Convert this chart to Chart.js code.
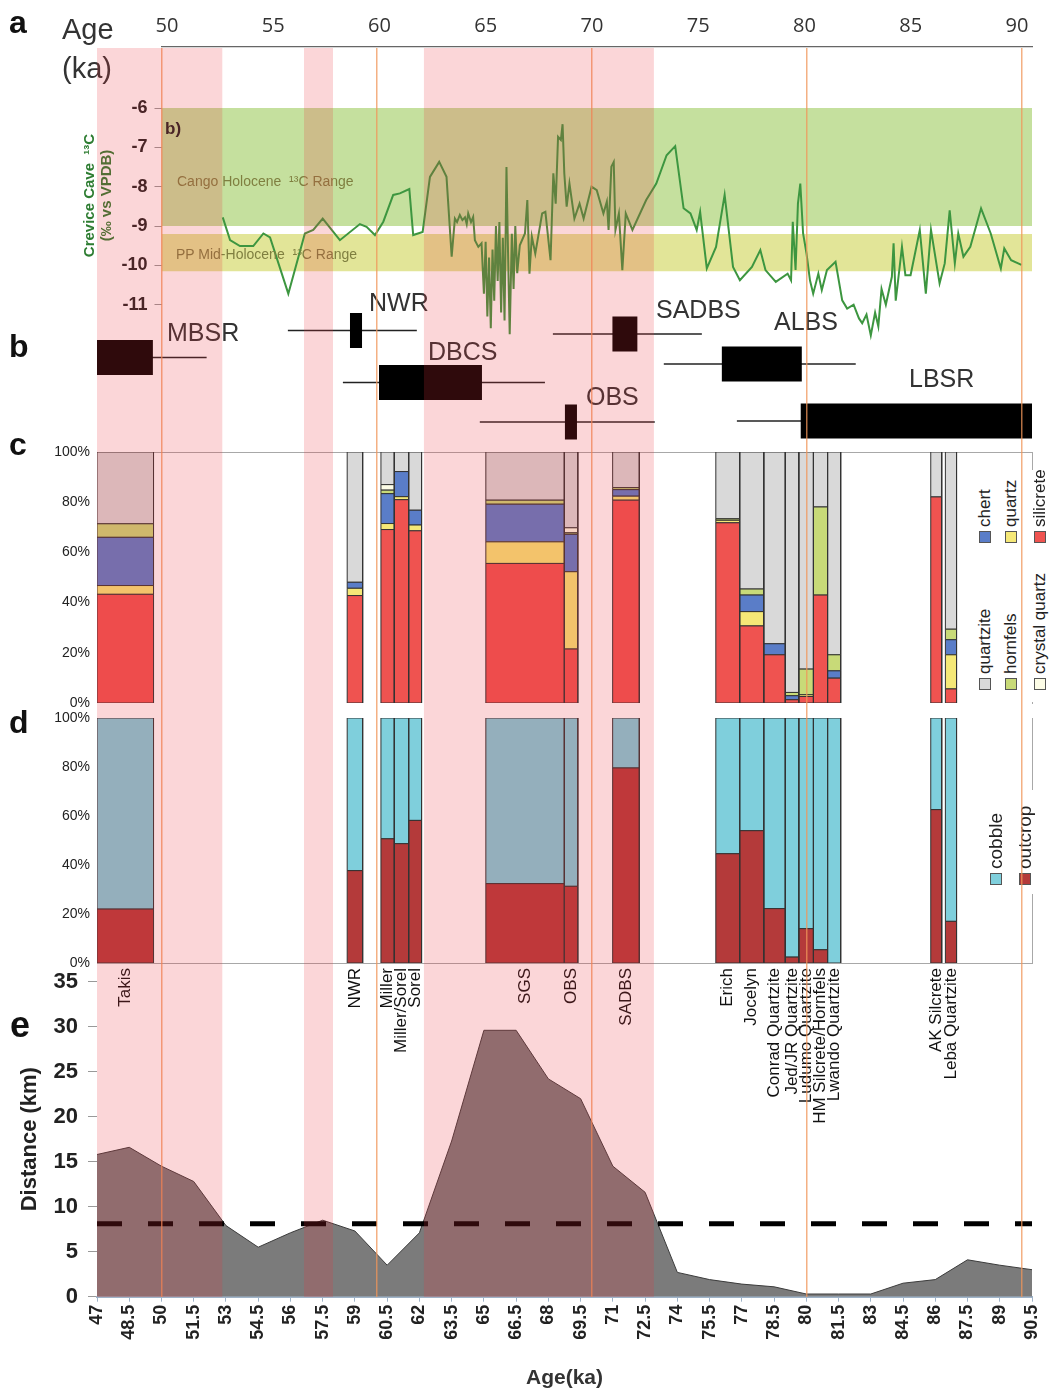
<!DOCTYPE html>
<html>
<head>
<meta charset="utf-8">
<title>Raw material sourcing, dates and distance by age</title>
<script src="https://cdn.jsdelivr.net/npm/chart.js@4.4.1/dist/chart.umd.min.js"></script>
<style>
  html, body { margin: 0; padding: 0; background: #fff; }
  body { position: relative; width: 1052px; height: 1393px; overflow: hidden; font-family: Arial, "Liberation Sans", sans-serif; }
  .panel { position: absolute; left: 0; width: 1052px; }
  .t { position: absolute; white-space: nowrap; line-height: 1; }
  .letter { font-weight: bold; font-size: 32px; color: #111; }
  .date { font-size: 25px; color: #333; }
  .range { font-family: "Liberation Sans Narrow", "Arial Narrow", Arial, sans-serif; font-size: 14px; color: #7f7f40; }
  .leg { position: absolute; transform: rotate(-90deg); transform-origin: 0 0; white-space: nowrap; display: flex; align-items: center; height: 20px; color: #222; }
  .sw { width: 12px; height: 12px; box-sizing: border-box; border: 1px solid #555; margin-right: 4px; flex: none; }
  .legbg { position: absolute; background: #fff; }
  #overlay { z-index: 10; pointer-events: none; }
</style>
</head>
<body>
<div class="panel" style="top:0;height:344px"><canvas id="chartA"></canvas></div>
<div class="panel" style="top:290px;height:155px"><canvas id="chartB"></canvas></div>
<div class="panel" style="top:440px;height:273px"><canvas id="chartC"></canvas></div>
<div class="panel" style="top:708px;height:455px"><canvas id="chartD"></canvas></div>
<div class="panel" style="top:970px;height:423px"><canvas id="chartE"></canvas></div>
<div class="legbg" style="left:975px;top:470px;width:77px;height:232px"></div>
<div class="legbg" style="left:984px;top:790px;width:56px;height:104px"></div>

<div class="t letter" style="left:9px;top:6px">a</div>
<div class="t letter" style="left:9px;top:330px">b</div>
<div class="t letter" style="left:9px;top:428px">c</div>
<div class="t letter" style="left:9px;top:706px">d</div>
<div class="t letter" style="left:10px;top:1007px;font-size:36px">e</div>
<div class="t" style="left:62px;top:15px;font-size:29px;color:#333">Age</div>
<div class="t" style="left:62px;top:54px;font-size:29px;color:#333">(ka)</div>
<div class="t" style="left:165px;top:120px;font-size:17px;font-weight:bold;color:#222">b)</div>
<div class="t range" style="left:177px;top:174px">Cango Holocene &nbsp;¹³C Range</div>
<div class="t range" style="left:176px;top:247px">PP Mid-Holocene &nbsp;¹³C Range</div>
<div id="dateLabels"></div>

<div id="overlay" class="panel" style="top:48px;height:1249px"><canvas id="chartO"></canvas></div>

<script>
// ---- data ----
const topAgeTicks = [50, 55, 60, 65, 70, 75, 80, 85, 90];
const guideAges = [50, 60, 70, 80, 90];
const bandStart = [47.0, 56.63, 62.21];
const bandEnd = [52.83, 57.98, 72.91];

// Crevice Cave d13C record (ka, permil)
const d13cAge = [52.85, 53.19, 53.65, 54.27, 54.74, 55.05, 55.9, 56.67, 57.06, 57.5, 58.3, 59.23, 59.54, 59.93,
  60.32, 60.78, 61.09, 61.53, 61.71, 62.15, 62.49, 62.92, 63.26, 63.5, 63.65, 63.75, 63.88, 64.0, 64.12, 64.2,
  64.27, 64.4, 64.5, 64.58, 64.74, 64.89, 65.0, 65.08, 65.16, 65.24, 65.32, 65.4, 65.48, 65.56, 65.64, 65.72,
  65.8, 65.88, 65.96, 66.05, 66.12, 66.2, 66.3, 66.38, 66.46, 66.55, 66.67, 66.91, 67.02, 67.12, 67.23, 67.39,
  67.71, 67.86, 68.1, 68.23, 68.34, 68.45, 68.58, 68.66, 68.74, 68.85, 68.98, 69.21, 69.45, 69.64, 70.01, 70.25,
  70.56, 70.72, 70.8, 70.93, 71.04, 71.12, 71.28, 71.44, 71.6, 71.91, 72.55, 73.02, 73.5, 73.9, 74.29, 74.61,
  74.9, 75.06, 75.37, 75.8, 76.2, 76.59, 76.91, 77.47, 77.86, 78.1, 78.58, 79.13, 79.29, 79.37, 79.5, 79.61,
  79.72, 79.85, 80.01, 80.17, 80.32, 80.56, 80.72, 80.96, 81.36, 81.67, 81.9, 82.2, 82.45, 82.6, 82.8, 83.0,
  83.2, 83.35, 83.5, 83.7, 83.98, 84.06, 84.16, 84.29, 84.45, 84.61, 84.85, 85.28, 85.56, 85.8, 86.2, 86.44,
  86.67, 86.91, 87.07, 87.31, 87.63, 88.13, 88.58, 89.05, 89.21, 89.53, 90.01];
const d13cValue = [-8.78, -9.36, -9.51, -9.51, -9.19, -9.29, -10.72, -9.19, -9.10, -8.81, -9.36, -8.95, -9.02, -9.23,
  -8.89, -8.21, -8.17, -8.06, -9.23, -9.15, -7.75, -7.37, -7.75, -9.78, -8.81, -8.9, -8.72, -8.85, -8.78, -8.95,
  -8.68, -8.9, -8.77, -9.36, -9.53, -9.44, -10.72, -9.4, -11.3, -9.8, -11.6, -9.6, -10.9, -9.0, -10.4, -8.9,
  -11.2, -9.3, -11.4, -7.5, -9.6, -11.75, -9.2, -10.6, -9.0, -10.2, -9.49, -9.19, -8.34, -10.21, -9.27, -9.7,
  -8.68, -8.64, -9.87, -7.66, -8.43, -6.73, -6.81, -6.41, -7.66, -8.51, -7.92, -8.81, -8.43, -8.81, -8.0, -8.09,
  -8.68, -8.38, -9.1, -7.49, -7.37, -9.1, -8.68, -10.12, -8.68, -9.1, -8.34, -7.92, -7.2, -6.97, -8.55, -8.68,
  -9.1, -8.64, -10.08, -9.53, -8.21, -10.04, -10.38, -10.04, -9.61, -10.12, -10.42, -10.21, -10.38, -8.89, -10.12, -8.43,
  -7.92, -9.19, -9.7, -10.38, -10.72, -10.21, -10.63, -10.12, -9.91, -10.89, -11.1, -11.0, -11.35, -11.47, -11.25, -11.78,
  -11.2, -11.55, -10.6, -11.0, -10.29, -9.44, -10.9, -10.29, -9.53, -10.25, -10.25, -9.1, -10.72, -9.1, -10.46, -9.95,
  -8.6, -9.95, -9.19, -9.78, -9.53, -8.55, -9.19, -10.08, -9.57, -9.87, -9.99];
const d13cTicks = [-6, -7, -8, -9, -10, -11];
const cangoRange = [-6, -9];
const ppRange = [-9.2, -10.15];

// dated units: whisker low, box low, box high, whisker high (ka)
const dateNames = ['MBSR', 'NWR', 'DBCS', 'OBS', 'SADBS', 'ALBS', 'LBSR'];
const dateLow = [47.0, 55.88, 58.44, 64.81, 68.21, 73.37, 76.77];
const dateBoxLow = [47.0, 58.77, 60.12, 68.77, 70.98, 76.07, 79.74];
const dateBoxHigh = [49.6, 59.33, 64.91, 69.33, 72.14, 79.79, 90.5];
const dateHigh = [52.1, 61.88, 67.84, 72.95, 75.14, 82.3, 90.5];

// sites (age span in ka) and raw material composition (%)
const siteNames = ['Takis', 'NWR', 'Miller', 'Miller/Sorel', 'Sorel', 'SGS', 'OBS', 'SADBS', 'Erich', 'Jocelyn',
  'Conrad Quartzite', 'Jed/JR Quartzite', 'Ludumo Quartzite', 'HM Silcrete/Hornfels', 'Lwando Quartzite',
  'AK Silcrete', 'Leba Quartzite'];
const siteStart = [47.0, 58.64, 60.21, 60.83, 61.5, 65.09, 68.74, 70.99, 75.79, 76.9, 78.02, 79.02, 79.65, 80.33, 80.99, 85.79, 86.47];
const siteEnd = [49.63, 59.36, 60.83, 61.5, 62.1, 68.74, 69.37, 72.23, 76.9, 78.02, 79.02, 79.65, 80.33, 80.99, 81.6, 86.3, 86.99];
const silcrete = [43.3, 42.8, 69.1, 81.0, 68.6, 55.6, 21.5, 80.8, 71.8, 30.7, 19.2, 1.3, 2.6, 43.0, 9.9, 82.1, 5.6];
const quartz = [3.5, 2.9, 2.4, 1.2, 2.3, 8.6, 30.8, 1.6, 1.0, 5.7, 0, 0, 0.7, 0, 0, 0, 13.6];
const chert = [19.2, 2.4, 11.9, 10.0, 5.9, 15.0, 14.9, 2.6, 0, 6.6, 4.4, 1.6, 0, 0, 2.9, 0, 6.0];
const hornfels = [5.4, 0, 1.4, 0, 0, 1.6, 0.6, 0.8, 0.6, 2.4, 0, 1.3, 10.2, 35.1, 6.4, 0, 4.2];
const crystalQuartz = [0, 0, 2.2, 0, 0, 0, 2.0, 0, 0, 0, 0, 0, 0, 0, 0, 0, 0];
const quartzite = [28.6, 51.9, 13.0, 7.8, 23.2, 19.2, 30.2, 14.2, 26.6, 54.6, 76.4, 95.8, 86.5, 21.9, 80.8, 17.9, 70.6];
const outcrop = [22.0, 37.7, 50.7, 48.7, 58.2, 32.4, 31.3, 79.6, 44.6, 54.0, 22.2, 2.4, 14.0, 5.4, 0, 62.6, 17.0];
const cobble = [78.0, 62.3, 49.3, 51.3, 41.8, 67.6, 68.7, 20.4, 55.4, 46.0, 77.8, 97.6, 86.0, 94.6, 100, 37.4, 83.0];
const pctTicks = [0, 20, 40, 60, 80, 100];

// transport distance (km)
const distanceAge = [47, 48.5, 50, 51.5, 53, 54.5, 56, 57.5, 59, 60.5, 62, 63.5, 65, 66.5, 68, 69.5, 71, 72.5,
  74, 75.5, 77, 78.5, 80, 81.5, 83, 84.5, 86, 87.5, 89, 90.5];
const distanceKm = [15.8, 16.6, 14.5, 12.8, 7.9, 5.5, 7.1, 8.5, 7.3, 3.5, 7.1, 17.3, 29.6, 29.6, 24.2, 22.0, 14.5, 11.6,
  2.7, 1.9, 1.4, 1.1, 0.3, 0.3, 0.3, 1.5, 1.9, 4.1, 3.5, 3.0];
const distanceThreshold = 8.1;
const ageTicks = [47, 48.5, 50, 51.5, 53, 54.5, 56, 57.5, 59, 60.5, 62, 63.5, 65, 66.5, 68, 69.5, 71, 72.5,
  74, 75.5, 77, 78.5, 80, 81.5, 83, 84.5, 86, 87.5, 89, 90.5];

// ---- styling ----
const narrow = '"Liberation Sans Narrow", "Arial Narrow", Arial, sans-serif';
const frameColor = '#a8a8a8';
const layers = [
  { label: 'silicrete', values: silcrete, color: '#ef5350' },
  { label: 'quartz', values: quartz, color: '#f5e877' },
  { label: 'chert', values: chert, color: '#5a7dc8' },
  { label: 'hornfels', values: hornfels, color: '#c8da78' },
  { label: 'crystal quartz', values: crystalQuartz, color: '#fcfce6' },
  { label: 'quartzite', values: quartzite, color: '#d9d9d9' }
];
const sourceLayers = [
  { label: 'outcrop', values: outcrop, color: '#b43a3a' },
  { label: 'cobble', values: cobble, color: '#7fcfdc' }
];

Chart.defaults.font.family = 'Arial, "Liberation Sans", sans-serif';
Chart.defaults.animation = false;
Chart.defaults.events = [];
Chart.defaults.plugins.legend.display = false;
Chart.defaults.plugins.tooltip.enabled = false;
Chart.defaults.elements.point.radius = 0;
Chart.defaults.elements.line.tension = 0;

function rect(x0, x1, y0, y1) {
  return [{ x: x0, y: y0 }, { x: x0, y: y1 }, { x: x1, y: y1 }, { x: x1, y: y0 }, { x: x0, y: y0 }];
}
// fixed axis sizes; drop the label overhang padding so the plot area stays where the layout puts it
const fixWidth = w => s => { s.width = w; s.paddingTop = 0; s.paddingBottom = 0; };
const fixHeight = h => s => { s.height = h; s.paddingLeft = 0; s.paddingRight = 0; };
const setTicks = values => s => { s.ticks = values.map(v => ({ value: v })); };
const hidden = (min, max, extra) => Object.assign({ type: 'linear', min: min, max: max, display: false }, extra || {});

// ---- a: d13C ----
new Chart(document.getElementById('chartA'), {
  type: 'line',
  data: {
    datasets: [
      { data: d13cAge.map((a, i) => ({ x: a, y: d13cValue[i] })), borderColor: '#3d9640', borderWidth: 2, fill: false },
      { data: rect(50, 90.5, ppRange[0], ppRange[1]), fill: 'shape', backgroundColor: 'rgb(226,229,152)', borderWidth: 0 },
      { data: rect(50, 90.5, cangoRange[0], cangoRange[1]), fill: 'shape', backgroundColor: 'rgb(197,224,158)', borderWidth: 0 }
    ]
  },
  options: {
    responsive: true, maintainAspectRatio: false,
    layout: { padding: { left: 80, right: 20, top: 0, bottom: 0 } },
    scales: {
      x: hidden(50, 90.5),
      x2: {
        type: 'linear', axis: 'x', position: 'top', min: 49.74, max: 90.71,
        afterBuildTicks: setTicks(topAgeTicks), afterFit: fixHeight(47),
        grid: { display: false, drawTicks: false },
        border: { color: '#666', width: 1.2 },
        ticks: { padding: 9, color: '#333', font: { family: '"Open Sans", Arial, sans-serif', size: 20 }, callback: v => String(v) }
      },
      y: {
        type: 'linear', min: -12, max: -4.448,
        afterBuildTicks: setTicks(d13cTicks), afterFit: fixWidth(81.5),
        border: { display: false },
        grid: { drawOnChartArea: false, tickLength: 7, color: '#999' },
        ticks: { padding: 7, color: '#222', font: { size: 18, weight: 'bold' }, callback: v => String(v) },
        title: {
          display: true, text: ['Crevice Cave  ¹³C', '(‰ vs VPDB)'], color: '#2e7d32',
          font: { size: 15, weight: 'bold', lineHeight: 1.1 }, padding: { top: 2, bottom: 0 }
        }
      }
    }
  }
});

// ---- b: dated units ----
const rowY = { MBSR: 67.5, NWR: 40.5, DBCS: 92.5, OBS: 132, SADBS: 44, ALBS: 74, LBSR: 131 };
const boxHalf = 17.5;
const bDatasets = [];
dateNames.forEach((n, i) => bDatasets.push({
  data: rect(dateBoxLow[i], dateBoxHigh[i], rowY[n] - boxHalf, rowY[n] + boxHalf),
  fill: 'shape', backgroundColor: '#000', borderWidth: 0
}));
dateNames.forEach((n, i) => bDatasets.push({
  data: [{ x: dateLow[i], y: rowY[n] }, { x: dateHigh[i], y: rowY[n] }],
  borderColor: '#222', borderWidth: 1.5, fill: false
}));
new Chart(document.getElementById('chartB'), {
  type: 'line',
  data: { datasets: bDatasets },
  options: {
    responsive: true, maintainAspectRatio: false,
    layout: { padding: { left: 97, right: 20, top: 0, bottom: 0 } },
    scales: { x: hidden(47, 90.5), y: hidden(0, 155, { reverse: true }) }
  }
});
const dateLabelPos = { MBSR: [167, 320], NWR: [369, 290], DBCS: [428, 339], OBS: [586, 384], SADBS: [656, 297], ALBS: [774, 309], LBSR: [909, 366] };
dateNames.forEach(n => {
  const el = document.createElement('div');
  el.className = 't date';
  el.style.left = dateLabelPos[n][0] + 'px';
  el.style.top = dateLabelPos[n][1] + 'px';
  el.textContent = n;
  document.getElementById('dateLabels').appendChild(el);
});

// ---- c & d: stacked composition bars ----
function stackedRects(layerList) {
  const out = [];
  siteNames.forEach((s, i) => {
    let base = 0;
    layerList.forEach(l => {
      const v = l.values[i];
      if (v > 0) {
        out.push({ data: rect(siteStart[i], siteEnd[i], base, base + v), fill: 'shape', backgroundColor: l.color, borderColor: '#333', borderWidth: 1 });
      }
      base += v;
    });
  });
  return out;
}
const pctAxis = {
  type: 'linear', min: 0, max: 100,
  afterBuildTicks: setTicks(pctTicks), afterFit: fixWidth(97),
  border: { display: false },
  grid: { display: false, drawTicks: false },
  ticks: { padding: 7, color: '#222', font: { family: narrow, size: 14 }, callback: v => v + '%' }
};
const rightFrame = {
  type: 'linear', position: 'right', afterFit: fixWidth(0),
  ticks: { display: false }, grid: { display: false, drawTicks: false }, border: { color: frameColor }
};

new Chart(document.getElementById('chartC'), {
  type: 'line',
  data: { datasets: stackedRects(layers) },
  options: {
    responsive: true, maintainAspectRatio: false,
    layout: { padding: { left: 0, right: 20, top: 12, bottom: 10 } },
    scales: {
      x: {
        type: 'linear', min: 47, max: 90.5, position: 'top', afterFit: fixHeight(0),
        ticks: { display: false }, grid: { display: false, drawTicks: false }, border: { color: frameColor }
      },
      y: pctAxis,
      y2: rightFrame
    }
  }
});

const siteCenters = siteNames.map((s, i) => (siteStart[i] + siteEnd[i]) / 2);
new Chart(document.getElementById('chartD'), {
  type: 'line',
  data: { datasets: stackedRects(sourceLayers) },
  options: {
    responsive: true, maintainAspectRatio: false,
    layout: { padding: { left: 0, right: 20, top: 10, bottom: 0 } },
    scales: {
      x: {
        type: 'linear', min: 47, max: 90.5, position: 'bottom',
        afterBuildTicks: setTicks(siteCenters), afterFit: fixHeight(200),
        grid: { display: false, drawTicks: false }, border: { color: frameColor },
        ticks: {
          autoSkip: false, minRotation: 90, maxRotation: 90, padding: 5, color: '#111',
          font: { size: 17 }, callback: (v, i) => siteNames[i]
        }
      },
      y: pctAxis,
      y2: rightFrame
    }
  }
});

function addLegend(items, size) {
  const overlay = document.getElementById('overlay');
  items.forEach(it => {
    const el = document.createElement('div');
    el.className = 'leg';
    el.style.fontSize = size + 'px';
    el.style.left = (it.x - 10) + 'px';
    el.style.top = (it.y + 6) + 'px';
    el.innerHTML = '<span class="sw" style="background:' + it.color + '"></span>' + it.label;
    document.body.insertBefore(el, overlay);
  });
}
const layerColor = name => layers.concat(sourceLayers).find(l => l.label === name).color;
addLegend([
  { label: 'quartzite', x: 985, y: 684 }, { label: 'hornfels', x: 1011, y: 684 }, { label: 'crystal quartz', x: 1040, y: 684 },
  { label: 'chert', x: 985, y: 537 }, { label: 'quartz', x: 1011, y: 537 }, { label: 'silicrete', x: 1040, y: 537 }
].map(it => Object.assign(it, { color: layerColor(it.label) })), 17);
addLegend([
  { label: 'cobble', x: 996, y: 879 }, { label: 'outcrop', x: 1025, y: 879 }
].map(it => Object.assign(it, { color: layerColor(it.label) })), 19);

// ---- e: distance ----
new Chart(document.getElementById('chartE'), {
  type: 'line',
  data: {
    datasets: [
      {
        data: [{ x: 47, y: distanceThreshold }, { x: 90.5, y: distanceThreshold }],
        borderColor: '#000', borderWidth: 5, borderDash: [25, 26], borderCapStyle: 'butt', fill: false
      },
      {
        data: distanceAge.map((a, i) => ({ x: a, y: distanceKm[i] })),
        borderColor: '#3c3c3c', borderWidth: 1, backgroundColor: '#7b7b7b', fill: 'origin'
      }
    ]
  },
  options: {
    responsive: true, maintainAspectRatio: false,
    layout: { padding: { left: 0, right: 20, top: 11.7, bottom: 0 } },
    scales: {
      x: {
        type: 'linear', min: 47, max: 90.5,
        afterBuildTicks: setTicks(ageTicks), afterFit: fixHeight(96.3),
        grid: { drawOnChartArea: false, tickLength: 5, color: '#9fb3c8' },
        border: { color: '#9fb3c8', width: 2 },
        ticks: {
          autoSkip: false, minRotation: 90, maxRotation: 90, padding: 3, color: '#222',
          font: { family: narrow, size: 18, weight: 'bold' }, callback: v => String(v)
        },
        title: { display: true, text: 'Age(ka)', color: '#333', font: { family: narrow, size: 21, weight: 'bold' }, padding: { top: 0, bottom: 2 } }
      },
      y: {
        type: 'linear', min: 0, max: 35,
        afterFit: fixWidth(97),
        border: { display: false },
        grid: { drawOnChartArea: false, tickLength: 9, color: '#999' },
        ticks: { stepSize: 5, padding: 10, color: '#222', font: { size: 22, weight: 'bold' } },
        title: { display: true, text: 'Distance (km)', color: '#222', font: { size: 22, weight: 'bold' }, padding: { top: 17, bottom: 0 } }
      }
    }
  }
});

// ---- overlay: highlighted intervals and 10 ka guides ----
new Chart(document.getElementById('chartO'), {
  type: 'line',
  data: {
    datasets: bandStart.map((s, i) => ({
      data: rect(s, bandEnd[i], 0, 1), fill: 'shape', backgroundColor: 'rgba(235,50,60,0.2)', borderWidth: 0
    }))
  },
  options: {
    responsive: true, maintainAspectRatio: false,
    layout: { padding: { left: 97, right: 20, top: 0, bottom: 0 } },
    scales: {
      x: {
        type: 'linear', min: 47, max: 90.5,
        afterBuildTicks: setTicks(guideAges), afterFit: fixHeight(0),
        ticks: { display: false }, border: { display: false },
        grid: { color: 'rgba(240,150,90,0.75)', lineWidth: 1.5, drawTicks: false }
      },
      y: hidden(0, 1)
    }
  }
});
</script>
</body>
</html>
